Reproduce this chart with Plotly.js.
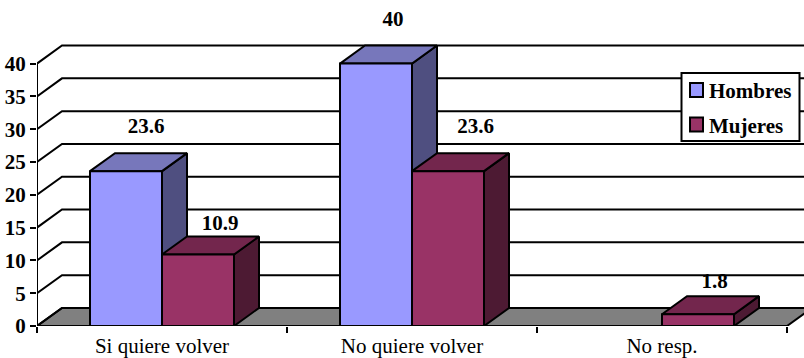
<!DOCTYPE html>
<html><head><meta charset="utf-8">
<script src="https://cdn.plot.ly/plotly-3.0.1.min.js"></script>
<style>html,body{margin:0;padding:0;background:#fff;overflow:hidden}</style>
</head><body><div id="chart" style="width:804px;height:358px"></div>
<script>
const categories = ["Si quiere volver", "No quiere volver", "No resp."];
const hombres = [23.6, 40, null];
const mujeres = [10.9, 23.6, 1.8];
const yTicks = [0, 5, 10, 15, 20, 25, 30, 35, 40];
const hombresLabels = ["23.6", "40", ""];
const mujeresLabels = ["10.9", "23.6", "1.8"];
const hombresLabelShift = [0.08, 0.068, 0];
const mujeresLabelShift = [0.088, 0.11, 0.066];
const hombresLabelLift = [6.65, 6.55, 0];
const mujeresLabelLift = [4.57, 6.65, 4.83];

const W = 804, H = 358, ML = 37, MB = 32;
const PXX = 250, PXY = 6.56;
const xMax = -0.5 + (W - ML) / PXX, yMax = (H - MB) / PXY;
const BW = 0.288, DX = 0.1, DY = 2.75;
const idx = categories.map((_, i) => i);
const black = "#000";

function face(vals, pts) {
  const xs = [], ys = [];
  vals.forEach((v, i) => {
    if (v === null) return;
    pts(i, v).forEach(p => { xs.push(p[0]); ys.push(p[1]); });
    xs.push(null); ys.push(null);
  });
  return { x: xs, y: ys };
}
function poly(c, vals, pts) {
  const f = face(vals, pts);
  return { type: "scatter", mode: "lines", x: f.x, y: f.y, fill: "toself", fillcolor: c,
    line: { color: black, width: 2 }, hoverinfo: "skip", showlegend: false, cliponaxis: true };
}
const side = off => (i, v) => [[i + off, 0], [i + off + DX, DY], [i + off + DX, v + DY], [i + off, v], [i + off, 0]];
const top_ = off => (i, v) => [[i + off - BW, v], [i + off, v], [i + off + DX, v + DY], [i + off - BW + DX, v + DY], [i + off - BW, v]];

const wallX = [], wallY = [];
yTicks.forEach(t => {
  wallX.push(-0.5, -0.5 + DX, 2.5 + DX, null);
  wallY.push(t, t + DY, t + DY, null);
});

const labelFont = { family: "Liberation Serif", size: 21, color: black, weight: 700 };
const traces = [
  { type: "scatter", mode: "lines", x: [-0.5, 2.5, 2.5 + DX, -0.5 + DX, -0.5], y: [0, 0, DY, DY, 0], fill: "toself",
    fillcolor: "#808080", line: { color: black, width: 2 }, hoverinfo: "skip", showlegend: false },
  { type: "scatter", mode: "lines", x: wallX, y: wallY, line: { color: black, width: 2 }, hoverinfo: "skip", showlegend: false },
  { type: "scatter", mode: "lines", x: [-0.5, -0.5, 2.5], y: [40, 0, 0], line: { color: black, width: 2 }, hoverinfo: "skip", showlegend: false, cliponaxis: false },
  poly("#4F4F80", hombres, side(0)),
  poly("#7777BB", hombres, top_(0)),
  poly("#4D1A33", mujeres, side(BW)),
  poly("#73264D", mujeres, top_(BW)),
  { type: "bar", name: "Hombres", x: idx, y: hombres, xaxis: "x2", yaxis: "y2", cliponaxis: false,
    marker: { color: "#9999FF", line: { color: black, width: 2 } } },
  { type: "bar", name: "Mujeres", x: idx, y: mujeres, xaxis: "x2", yaxis: "y2", cliponaxis: false,
    marker: { color: "#993366", line: { color: black, width: 2 } } },
  { type: "scatter", mode: "text", xaxis: "x2", yaxis: "y2", showlegend: false, hoverinfo: "skip", cliponaxis: false,
    x: idx.map(i => i - BW / 2 + hombresLabelShift[i]), y: hombres.map((v, i) => v === null ? null : v + hombresLabelLift[i]), text: hombresLabels,
    textfont: labelFont, textposition: "middle center" },
  { type: "scatter", mode: "text", xaxis: "x2", yaxis: "y2", showlegend: false, hoverinfo: "skip", cliponaxis: false,
    x: idx.map(i => i + BW / 2 + mujeresLabelShift[i]), y: mujeres.map((v, i) => v + mujeresLabelLift[i]), text: mujeresLabels,
    textfont: labelFont, textposition: "middle center" }
];

const py = y => 1 - y / (H - MB);
const pxX = x => (x - ML) / (W - ML);
const legendNames = ["Hombres", "Mujeres"];
const legendColors = ["#9999FF", "#993366"];
const legendYs = [90, 124.5];
const shapes = [{ type: "rect", xref: "paper", yref: "paper", x0: pxX(681.5), x1: pxX(799.5), y0: py(141), y1: py(73), fillcolor: "#fff", line: { color: black, width: 2 }, layer: "above" }];
legendColors.forEach((c, i) => shapes.push({ type: "rect", xref: "paper", yref: "paper", x0: pxX(690), x1: pxX(703), y0: py(legendYs[i] + 7), y1: py(legendYs[i] - 7), fillcolor: c, line: { color: black, width: 2 }, layer: "above" }));
const annotations = legendNames.map((n, i) => ({ xref: "paper", yref: "paper", x: pxX(708), y: py(legendYs[i] + 1), xanchor: "left", yanchor: "middle", showarrow: false, text: "<b>" + n + "</b>",
  font: { family: "Liberation Serif", size: 21, color: black }, borderpad: 0 }));

const layout = {
  width: W, height: H, margin: { l: ML, r: 0, t: 0, b: MB, pad: 0 },
  paper_bgcolor: "#fff", plot_bgcolor: "#fff", showlegend: false,
  barmode: "group", bargap: 1 - 2 * BW, bargroupgap: 0,
  font: { family: "Liberation Serif", color: black },
  xaxis: { type: "linear", range: [-0.5, xMax], tickvals: idx, ticktext: categories, ticks: "", showgrid: false, zeroline: false, showline: false,
    tickfont: { family: "Liberation Serif", size: 21, color: black }, ticklabelstandoff: 5,
    minor: { tickvals: [-0.5, 0.5, 1.5, 2.5], ticks: "outside", ticklen: 6, tickwidth: 2, tickcolor: black, showgrid: false } },
  yaxis: { type: "linear", range: [0, yMax], tickvals: yTicks, ticks: "outside", ticklen: 6, tickwidth: 2, tickcolor: black, showgrid: false, zeroline: false, showline: false,
    tickfont: { family: "Liberation Serif", size: 21, color: black, weight: 700 } },
  xaxis2: { overlaying: "x", range: [-0.5, xMax], visible: false, matches: "x" },
  yaxis2: { overlaying: "y", range: [0, yMax], visible: false, matches: "y" },
  shapes, annotations
};
Plotly.newPlot("chart", traces, layout, { displayModeBar: false, staticPlot: true });
</script></body></html>
